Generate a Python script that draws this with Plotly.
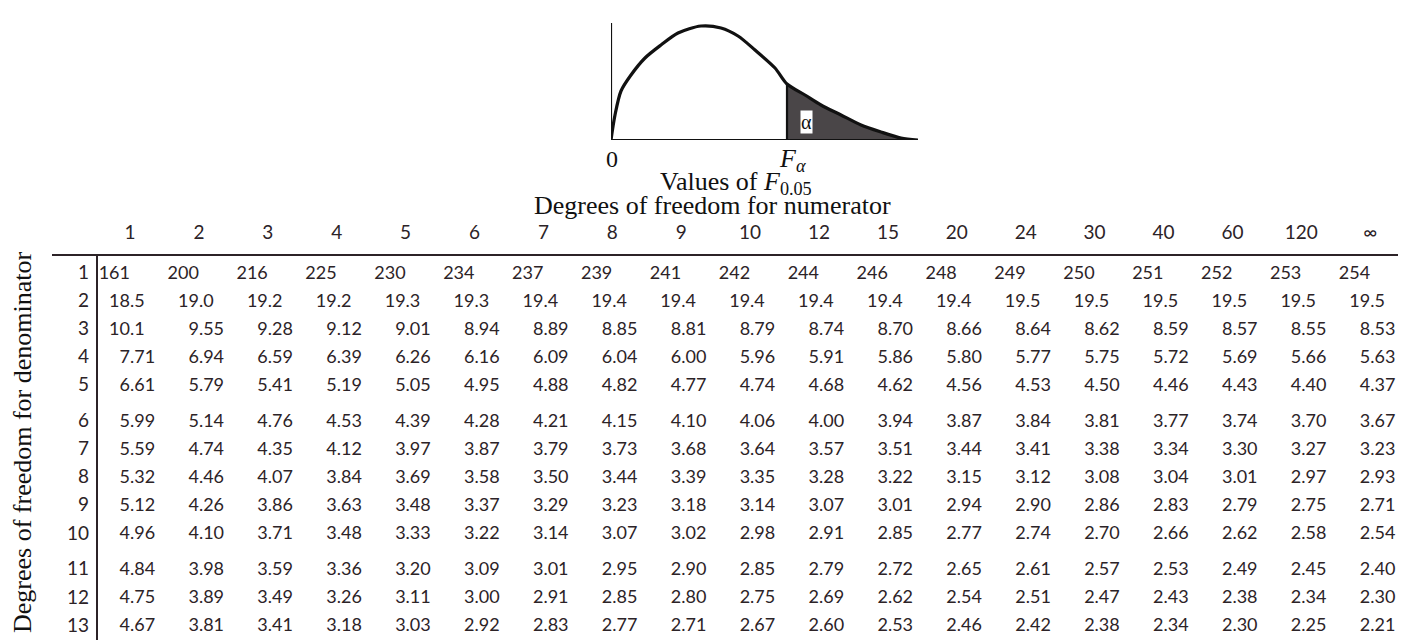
import plotly.graph_objects as go

# ── data ────────────────────────────────────────────────────────────────────
num_df = ["1", "2", "3", "4", "5", "6", "7", "8", "9", "10",
          "12", "15", "20", "24", "30", "40", "60", "120", "∞"]
den_df = ["1", "2", "3", "4", "5", "6", "7", "8", "9", "10", "11", "12", "13"]

f_row1 = ["161", "200", "216", "225", "230", "234", "237", "239", "241", "242",
          "244", "246", "248", "249", "250", "251", "252", "253", "254"]
f_row2 = ["18.5", "19.0", "19.2", "19.2", "19.3", "19.3", "19.4", "19.4", "19.4", "19.4",
          "19.4", "19.4", "19.4", "19.5", "19.5", "19.5", "19.5", "19.5", "19.5"]
f_row3 = ["10.1", "9.55", "9.28", "9.12", "9.01", "8.94", "8.89", "8.85", "8.81", "8.79",
          "8.74", "8.70", "8.66", "8.64", "8.62", "8.59", "8.57", "8.55", "8.53"]
f_row4 = ["7.71", "6.94", "6.59", "6.39", "6.26", "6.16", "6.09", "6.04", "6.00", "5.96",
          "5.91", "5.86", "5.80", "5.77", "5.75", "5.72", "5.69", "5.66", "5.63"]
f_row5 = ["6.61", "5.79", "5.41", "5.19", "5.05", "4.95", "4.88", "4.82", "4.77", "4.74",
          "4.68", "4.62", "4.56", "4.53", "4.50", "4.46", "4.43", "4.40", "4.37"]
f_row6 = ["5.99", "5.14", "4.76", "4.53", "4.39", "4.28", "4.21", "4.15", "4.10", "4.06",
          "4.00", "3.94", "3.87", "3.84", "3.81", "3.77", "3.74", "3.70", "3.67"]
f_row7 = ["5.59", "4.74", "4.35", "4.12", "3.97", "3.87", "3.79", "3.73", "3.68", "3.64",
          "3.57", "3.51", "3.44", "3.41", "3.38", "3.34", "3.30", "3.27", "3.23"]
f_row8 = ["5.32", "4.46", "4.07", "3.84", "3.69", "3.58", "3.50", "3.44", "3.39", "3.35",
          "3.28", "3.22", "3.15", "3.12", "3.08", "3.04", "3.01", "2.97", "2.93"]
f_row9 = ["5.12", "4.26", "3.86", "3.63", "3.48", "3.37", "3.29", "3.23", "3.18", "3.14",
          "3.07", "3.01", "2.94", "2.90", "2.86", "2.83", "2.79", "2.75", "2.71"]
f_row10 = ["4.96", "4.10", "3.71", "3.48", "3.33", "3.22", "3.14", "3.07", "3.02", "2.98",
           "2.91", "2.85", "2.77", "2.74", "2.70", "2.66", "2.62", "2.58", "2.54"]
f_row11 = ["4.84", "3.98", "3.59", "3.36", "3.20", "3.09", "3.01", "2.95", "2.90", "2.85",
           "2.79", "2.72", "2.65", "2.61", "2.57", "2.53", "2.49", "2.45", "2.40"]
f_row12 = ["4.75", "3.89", "3.49", "3.26", "3.11", "3.00", "2.91", "2.85", "2.80", "2.75",
           "2.69", "2.62", "2.54", "2.51", "2.47", "2.43", "2.38", "2.34", "2.30"]
f_row13 = ["4.67", "3.81", "3.41", "3.18", "3.03", "2.92", "2.83", "2.77", "2.71", "2.67",
           "2.60", "2.53", "2.46", "2.42", "2.38", "2.34", "2.30", "2.25", "2.21"]

f_rows = [f_row1, f_row2, f_row3, f_row4, f_row5, f_row6, f_row7,
          f_row8, f_row9, f_row10, f_row11, f_row12, f_row13]

# sketch of the F density (arbitrary units)
curve_x = [0, 4, 10, 20, 34, 50, 67, 90, 110, 127, 144, 164, 176,
           194, 210, 230, 250, 270, 290, 307]
curve_y = [0, 25, 49, 65, 82, 95, 107, 114, 112, 104, 90, 72, 56,
           45, 35, 25, 15, 8, 2, 0]
f_alpha = 176

# ── layout constants (pixels of the 1406x640 page) ──────────────────────────
W, H = 1406, 640
COL0, COL_STEP = 122, 68.9      # x pixel of first column, column pitch
ROW0, ROW_STEP = 266, 28.1      # y pixel of first row, row pitch
BLOCK_GAP = 0.28                # extra space between blocks of five rows
INK = "#2c2327"
SERIF = "Liberation Serif, Times New Roman, serif"
SANS = "Lato, Open Sans, sans-serif"


def px_x(p):
    return (p - COL0) / COL_STEP


def px_y(p):
    return (p - ROW0) / ROW_STEP


def row_pos(i):
    return i + (i // 5) * BLOCK_GAP


fig = go.Figure()

# ── curve with shaded upper tail ────────────────────────────────────────────
tail = [(x, y) for x, y in zip(curve_x, curve_y) if x >= f_alpha]
fig.add_trace(go.Scatter(
    x=[f_alpha] + [p[0] for p in tail] + [f_alpha],
    y=[0] + [p[1] for p in tail] + [0],
    fill="toself", fillcolor="#4a4648", line=dict(width=0),
    mode="lines", xaxis="x2", yaxis="y2", hoverinfo="skip", showlegend=False,
))
fig.add_trace(go.Scatter(
    x=curve_x, y=curve_y, mode="lines",
    line=dict(color="#111111", width=3.2, shape="spline", smoothing=0.8),
    xaxis="x2", yaxis="y2", hoverinfo="skip", showlegend=False,
))

# ── table text ──────────────────────────────────────────────────────────────
int_x, int_y, int_t, frac_x, frac_y, frac_t = [], [], [], [], [], []
for r, row in enumerate(f_rows):
    for c, val in enumerate(row):
        head, _, tail_txt = val.partition(".")
        int_x.append(c)
        int_y.append(row_pos(r))
        int_t.append(head)
        if tail_txt:
            frac_x.append(c)
            frac_y.append(row_pos(r))
            frac_t.append("." + tail_txt)

cell_font = dict(family=SANS, size=18, color=INK)
fig.add_trace(go.Scatter(
    x=int_x, y=int_y, text=int_t, mode="text", textposition="middle left",
    textfont=cell_font, hoverinfo="skip", showlegend=False, cliponaxis=False,
))
fig.add_trace(go.Scatter(
    x=frac_x, y=frac_y, text=frac_t, mode="text", textposition="middle right",
    textfont=cell_font, hoverinfo="skip", showlegend=False, cliponaxis=False,
))
# column headings
fig.add_trace(go.Scatter(
    x=list(range(len(num_df))), y=[px_y(226)] * len(num_df), text=num_df,
    mode="text", textposition="middle center",
    textfont=dict(family=SANS, size=19, color=INK),
    hoverinfo="skip", showlegend=False, cliponaxis=False,
))
# row headings
fig.add_trace(go.Scatter(
    x=[px_x(81)] * len(den_df), y=[row_pos(i) for i in range(len(den_df))],
    text=den_df, mode="text", textposition="middle left",
    textfont=dict(family=SANS, size=19, color=INK),
    hoverinfo="skip", showlegend=False, cliponaxis=False,
))

# ── rules and curve axes ────────────────────────────────────────────────────
line_ink = dict(color=INK, width=2)
fig.add_shape(type="line", xref="paper", yref="paper",
              x0=44 / W, x1=1390 / W, y0=(H - 247) / H, y1=(H - 247) / H, line=line_ink)
fig.add_shape(type="line", xref="paper", yref="paper",
              x0=89 / W, x1=89 / W, y0=(H - 247) / H, y1=(H - 638) / H, line=line_ink)
fig.add_shape(type="line", xref="paper", yref="paper",
              x0=1280 / W, x1=1406 / W, y0=(H - 637) / H, y1=(H - 637) / H,
              line=dict(color="#9a9698", width=3))

axis_ink = dict(color="#111111", width=2.2)
fig.add_shape(type="line", xref="x2", yref="y2", x0=0, x1=0, y0=0, y1=117, line=axis_ink)
fig.add_shape(type="line", xref="x2", yref="y2", x0=0, x1=curve_x[-1], y0=0, y1=0, line=axis_ink)
fig.add_shape(type="line", xref="x2", yref="y2", x0=f_alpha, x1=f_alpha, y0=0,
              y1=curve_y[curve_x.index(f_alpha)], line=axis_ink)


# ── text labels ─────────────────────────────────────────────────────────────
def label(text, x, y, size=26, **kw):
    fig.add_annotation(text=text, x=x / W, y=(H - y) / H, xref="paper", yref="paper",
                       xanchor="center", yanchor="middle", showarrow=False,
                       font=dict(family=SERIF, size=size, color="#111111"), **kw)


label("α", 799, 114, size=20, bgcolor="white", borderpad=0)
label("0", 604, 151, size=24)
label("<i>F</i><sub><i>α</i></sub>", 784, 152, size=26)
label("Values of <i>F</i><sub>0.05</sub>", 728, 175, size=26)
label("Degrees of freedom for numerator", 705, 198, size=26)
label("Degrees of freedom for denominator", 14, 434, size=26, textangle=-90)

fig.update_layout(
    width=W, height=H,
    margin=dict(l=0, r=0, t=0, b=0),
    paper_bgcolor="white", plot_bgcolor="white",
    showlegend=False,
    xaxis=dict(range=[px_x(0), px_x(W)], visible=False, domain=[0, 1]),
    yaxis=dict(range=[px_y(H), px_y(0)], visible=False, domain=[0, 1]),
    xaxis2=dict(range=[0, curve_x[-1]], visible=False, anchor="y2",
                domain=[603 / W, 910 / W]),
    yaxis2=dict(range=[0, 117], visible=False, anchor="x2",
                domain=[(H - 132) / H, (H - 15) / H]),
)

fig.write_html("out.html")
